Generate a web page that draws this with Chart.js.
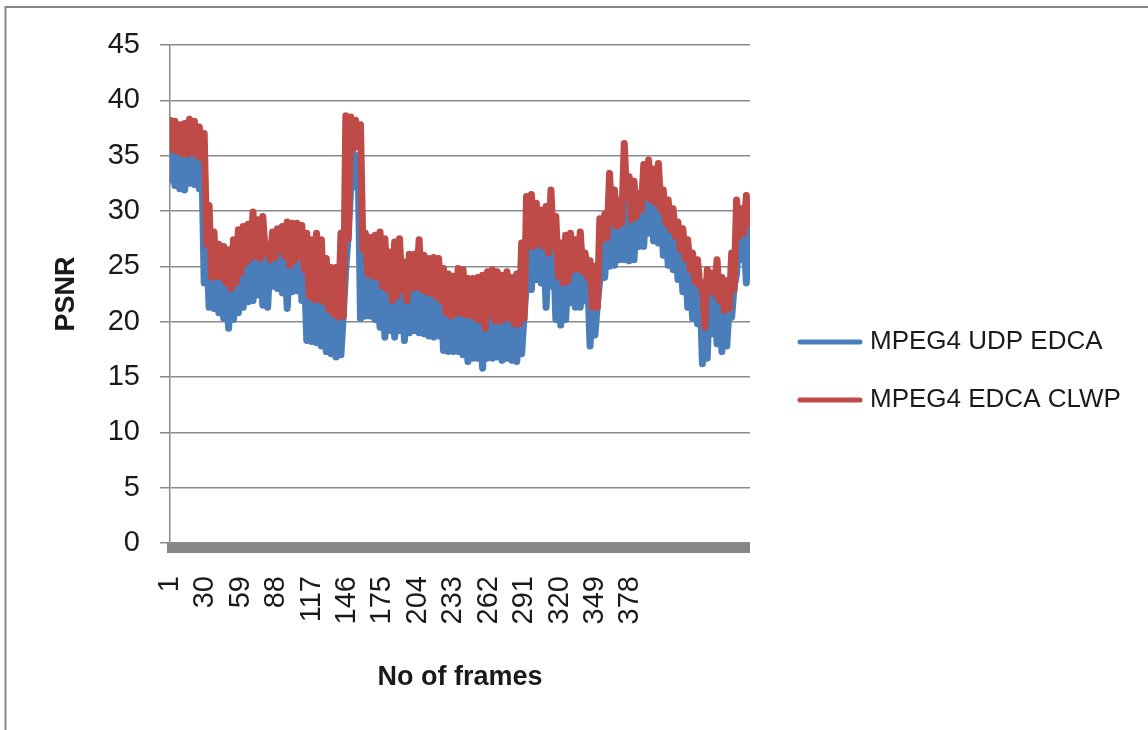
<!DOCTYPE html>
<html>
<head>
<meta charset="utf-8">
<title>PSNR per frame</title>
<script src="https://cdn.jsdelivr.net/npm/chart.js@4.4.1/dist/chart.umd.min.js"></script>
<style>
  html, body { margin: 0; padding: 0; background: #ffffff; }
  canvas { display: block; }
</style>
</head>
<body>
<canvas id="psnr" width="1148" height="730"></canvas>
<script>
// Frame numbers shown on the horizontal axis
const frameTicks = [1, 30, 59, 88, 117, 146, 175, 204, 233, 262, 291, 320, 349, 378];
const yTicks = [0, 5, 10, 15, 20, 25, 30, 35, 40, 45];

// Sampled every 4 frames: the high value of each block, then the low value two frames later.
const clwpHigh = [
  38.2, 38.1, 37.8, 37.9, 38.3, 38.1, 37.6, 37.0, 30.5, 28.1,
  27.0, 26.8, 26.5, 27.4, 28.3, 28.6, 28.8, 29.9, 29.2, 29.5,
  27.0, 28.1, 28.4, 28.6, 29.0, 28.9, 28.9, 28.7, 28.0, 27.4,
  28.0, 27.4, 25.7, 24.9, 24.9, 28.0, 38.6, 38.5, 38.2, 37.8,
  28.0, 27.6, 27.8, 28.1, 27.5, 26.3, 27.2, 27.5, 25.4, 26.1,
  26.1, 27.4, 26.0, 25.7, 25.8, 25.7, 24.8, 24.3, 24.1, 24.8,
  24.7, 23.9, 23.9, 24.0, 24.2, 24.5, 24.7, 24.5, 24.2, 24.5,
  24.0, 24.3, 27.1, 31.3, 31.5, 30.7, 30.1, 30.4, 31.9, 29.5,
  27.1, 27.8, 28.0, 27.4, 28.1, 26.2, 25.5, 25.0, 29.3, 29.7,
  33.4, 31.9, 31.0, 36.1, 33.1, 32.7, 31.6, 34.2, 34.6, 33.8,
  34.3, 31.9, 31.0, 30.2, 29.0, 28.4, 27.4, 26.2, 25.6, 23.5,
  24.7, 24.4, 25.6, 24.0, 23.7, 26.2, 31.0, 30.2, 31.4
];
const clwpLow = [
  35.6, 35.4, 35.2, 35.1, 35.3, 35.0, 34.8, 27.0, 24.0, 24.1,
  24.0, 23.5, 23.0, 23.5, 24.4, 25.3, 25.7, 26.0, 25.7, 26.2,
  25.6, 25.8, 26.5, 25.9, 25.1, 25.5, 25.9, 24.7, 22.3, 22.0,
  22.0, 21.8, 21.1, 20.7, 20.4, 20.5, 27.5, 35.6, 35.8, 26.5,
  24.3, 24.1, 24.0, 23.2, 22.9, 21.9, 22.3, 22.9, 21.9, 23.0,
  23.2, 22.9, 22.7, 22.6, 22.3, 21.9, 20.8, 20.5, 20.7, 20.8,
  20.6, 20.6, 20.3, 20.1, 19.4, 20.6, 20.1, 20.0, 20.3, 20.3,
  19.8, 19.8, 20.3, 26.8, 26.8, 27.1, 26.8, 26.2, 26.8, 24.1,
  23.5, 23.7, 24.7, 24.8, 24.5, 24.0, 21.3, 21.3, 27.4, 27.6,
  28.9, 28.6, 28.9, 31.3, 29.2, 29.5, 30.1, 31.3, 31.0, 30.7,
  30.1, 28.9, 28.3, 27.7, 26.5, 25.7, 24.7, 23.6, 23.2, 19.5,
  22.9, 22.5, 21.9, 21.0, 21.2, 22.9, 27.7, 28.0, 28.8
];
const udpHigh = [
  35.9, 35.7, 35.5, 35.4, 35.6, 35.3, 35.1, 27.3, 24.3, 24.4,
  24.3, 23.8, 23.3, 23.8, 24.7, 25.6, 26.0, 26.3, 26.0, 26.5,
  25.9, 26.1, 26.8, 26.2, 25.4, 25.8, 26.2, 25.0, 22.6, 22.3,
  22.3, 22.1, 21.4, 21.0, 20.7, 20.8, 27.8, 35.2, 35.0, 26.8,
  24.6, 24.4, 24.3, 23.5, 23.2, 22.2, 22.6, 23.2, 22.2, 23.3,
  23.5, 23.2, 23.0, 22.9, 22.6, 22.2, 21.1, 20.8, 21.0, 21.1,
  20.9, 20.9, 20.6, 20.4, 19.7, 20.9, 20.4, 20.3, 20.6, 20.6,
  20.1, 20.1, 20.6, 27.1, 27.1, 27.4, 27.1, 26.5, 27.1, 24.4,
  23.8, 24.0, 25.0, 25.1, 24.8, 24.3, 21.6, 21.6, 27.7, 27.9,
  29.2, 28.9, 29.2, 31.6, 29.5, 29.8, 30.4, 31.6, 31.3, 31.0,
  30.4, 29.2, 28.6, 28.0, 26.8, 26.0, 25.0, 23.9, 23.5, 19.8,
  23.2, 22.8, 22.2, 21.3, 21.5, 23.2, 28.0, 28.3, 29.1
];
const udpLow = [
  32.8, 32.3, 32.0, 31.9, 32.5, 32.4, 32.0, 23.5, 21.3, 21.2,
  20.8, 20.3, 19.4, 20.2, 20.8, 21.3, 21.8, 21.9, 22.4, 21.5,
  21.3, 23.2, 23.0, 22.6, 21.2, 22.7, 22.8, 21.9, 18.3, 18.2,
  18.1, 17.8, 17.3, 17.1, 16.8, 17.0, 24.9, 32.2, 32.2, 20.3,
  20.5, 20.5, 20.2, 19.5, 18.6, 19.2, 18.6, 19.2, 18.3, 19.0,
  19.2, 19.0, 18.9, 18.7, 18.6, 18.7, 17.4, 17.3, 17.3, 17.3,
  17.0, 16.4, 16.7, 16.7, 15.8, 16.7, 16.7, 16.8, 16.5, 16.7,
  16.5, 16.4, 17.1, 23.5, 22.9, 23.8, 23.5, 21.3, 23.2, 20.2,
  19.7, 20.2, 21.7, 21.3, 21.3, 21.9, 17.8, 18.8, 23.8, 24.0,
  25.0, 25.1, 25.6, 25.6, 25.5, 25.6, 26.8, 26.8, 28.0, 27.3,
  27.1, 26.0, 25.1, 24.7, 23.8, 22.7, 21.3, 20.3, 19.8, 16.2,
  16.7, 18.9, 18.0, 17.3, 17.8, 20.4, 24.3, 25.6, 23.5
];

const FRAME_STEP = 4;
const FRAME_MIN = 1;
const FRAME_MAX = 476;

// Each block contributes two frames: first value, then the second value two frames later
function framePoints(firstVals, secondVals) {
  const pts = [];
  firstVals.forEach((v, k) => {
    const f = 1 + k * FRAME_STEP;
    pts.push({ x: f, y: v });
    pts.push({ x: f + FRAME_STEP / 2, y: secondVals[k] });
  });
  return pts;
}

const BLUE = '#4A7EBB';
const RED = '#BE4B48';
const GRID = '#8a8a8a';
const TEXT = '#1a1a1a';

// White page, outer chart frame and the thick category-axis bar
const framePlugin = {
  id: 'frame',
  beforeDraw(chart) {
    const { ctx, width, height } = chart;
    ctx.save();
    ctx.fillStyle = '#ffffff';
    ctx.fillRect(0, 0, width, height);
    ctx.strokeStyle = '#858585';
    ctx.lineWidth = 2;
    ctx.beginPath();
    ctx.moveTo(5.5, height + 5);
    ctx.lineTo(5.5, 7);
    ctx.lineTo(width + 5, 7);
    ctx.stroke();
    ctx.restore();
  },
  beforeDatasetsDraw(chart) {
    const { ctx, chartArea } = chart;
    ctx.save();
    ctx.fillStyle = '#868686';
    ctx.fillRect(chartArea.left - 3, chartArea.bottom, chartArea.right - chartArea.left + 3, 10);
    ctx.restore();
  }
};

// Legend to the right of the plot: a short line sample followed by the series name
const sideLegend = {
  id: 'sideLegend',
  afterDraw(chart) {
    const { ctx } = chart;
    const x0 = 800, x1 = 860, textX = 870;
    const rows = [342, 400];
    ctx.save();
    ctx.font = '26px "Liberation Sans", Arial, sans-serif';
    ctx.textBaseline = 'middle';
    ctx.textAlign = 'left';
    chart.data.datasets.forEach((ds, i) => {
      const y = rows[i];
      ctx.strokeStyle = ds.borderColor;
      ctx.lineWidth = 5;
      ctx.lineCap = 'round';
      ctx.beginPath();
      ctx.moveTo(x0, y);
      ctx.lineTo(x1, y);
      ctx.stroke();
      ctx.fillStyle = TEXT;
      ctx.fillText(ds.label, textX, y);
    });
    ctx.restore();
  }
};

new Chart(document.getElementById('psnr'), {
  type: 'line',
  data: {
    datasets: [
      {
        label: 'MPEG4 UDP EDCA',
        data: framePoints(udpLow, udpHigh),
        borderColor: BLUE,
        backgroundColor: BLUE,
        borderWidth: 7,
        order: 1
      },
      {
        label: 'MPEG4 EDCA CLWP',
        data: framePoints(clwpHigh, clwpLow),
        borderColor: RED,
        backgroundColor: RED,
        borderWidth: 7,
        order: 0
      }
    ]
  },
  options: {
    responsive: false,
    animation: false,
    events: [],
    layout: { padding: { left: 0, right: 398, top: 45, bottom: 0 } },
    elements: {
      point: { radius: 0 },
      line: { tension: 0, borderJoinStyle: 'round', borderCapStyle: 'round', fill: false }
    },
    plugins: {
      legend: { display: false },
      tooltip: { enabled: false },
      title: { display: false }
    },
    scales: {
      x: {
        type: 'linear',
        min: FRAME_MIN,
        max: FRAME_MAX,
        afterBuildTicks(scale) {
          scale.ticks = frameTicks.map(v => ({ value: v }));
        },
        afterFit(scale) { scale.height = 187; },
        grid: { display: false, drawTicks: false },
        border: { display: false },
        ticks: {
          autoSkip: false,
          minRotation: 90,
          maxRotation: 90,
          padding: 33,
          color: TEXT,
          font: { family: '"Liberation Sans", Arial, sans-serif', size: 29 },
          callback: v => String(v)
        },
        title: {
          display: true,
          text: 'No of frames',
          color: TEXT,
          padding: { top: 0, bottom: 36 },
          font: { family: '"Liberation Sans", Arial, sans-serif', size: 27, weight: 'bold' }
        }
      },
      y: {
        min: 0,
        max: 45,
        afterBuildTicks(scale) {
          scale.ticks = yTicks.map(v => ({ value: v }));
        },
        afterFit(scale) { scale.width = 170; },
        grid: { color: GRID, lineWidth: 1.5, tickLength: 10 },
        border: { display: true, color: GRID, width: 1.5 },
        ticks: {
          padding: 20,
          color: TEXT,
          font: { family: '"Liberation Sans", Arial, sans-serif', size: 29 }
        },
        title: {
          display: true,
          text: 'PSNR',
          color: TEXT,
          padding: { top: 50, bottom: 0 },
          font: { family: '"Liberation Sans", Arial, sans-serif', size: 27, weight: 'bold' }
        }
      }
    }
  },
  plugins: [framePlugin, sideLegend]
});
</script>
</body>
</html>
